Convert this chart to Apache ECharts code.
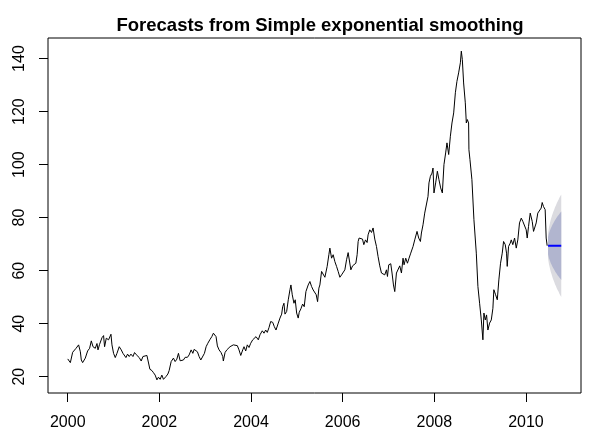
<!DOCTYPE html>
<html>
<head>
<meta charset="utf-8">
<style>html,body{margin:0;padding:0;background:#fff}#c{width:600px;height:442px}</style>
<script src="https://cdn.jsdelivr.net/npm/echarts@6/dist/echarts.min.js"></script>
</head>
<body>
<div id="c"></div>
<script>
var xTicks = [2000, 2002, 2004, 2006, 2008, 2010];
var yTicks = [20, 40, 60, 80, 100, 120, 140];

var obsYear = [
2000.000,2000.057,2000.107,2000.181,2000.237,2000.275,2000.296,2000.325,2000.383,2000.434,
2000.477,2000.514,2000.551,2000.601,2000.638,2000.660,2000.695,2000.747,2000.782,2000.804,
2000.841,2000.891,2000.943,2000.965,2001.000,2001.037,2001.074,2001.124,2001.168,2001.205,
2001.233,2001.270,2001.305,2001.342,2001.379,2001.423,2001.458,2001.495,2001.523,2001.560,
2001.603,2001.641,2001.684,2001.728,2001.762,2001.793,2001.837,2001.871,2001.908,2001.946,
2001.980,2002.017,2002.054,2002.089,2002.142,2002.185,2002.213,2002.257,2002.307,2002.344,
2002.381,2002.416,2002.453,2002.490,2002.525,2002.562,2002.612,2002.649,2002.693,2002.730,
2002.758,2002.795,2002.830,2002.867,2002.904,2002.939,2002.983,2003.020,2003.057,2003.107,
2003.144,2003.179,2003.216,2003.237,2003.266,2003.303,2003.346,2003.383,2003.396,2003.433,
2003.471,2003.505,2003.542,2003.579,2003.614,2003.651,2003.701,2003.738,2003.776,2003.819,
2003.847,2003.884,2003.919,2003.956,2003.993,2004.037,2004.065,2004.109,2004.159,2004.196,
2004.246,2004.283,2004.320,2004.355,2004.392,2004.429,2004.473,2004.508,2004.545,2004.595,
2004.632,2004.669,2004.691,2004.719,2004.741,2004.778,2004.813,2004.850,2004.871,2004.900,
2004.937,2004.965,2004.996,2005.030,2005.052,2005.089,2005.126,2005.161,2005.198,2005.248,
2005.285,2005.322,2005.357,2005.394,2005.423,2005.453,2005.481,2005.503,2005.540,2005.575,
2005.612,2005.662,2005.699,2005.721,2005.758,2005.793,2005.830,2005.867,2005.902,2005.939,
2005.976,2006.011,2006.048,2006.085,2006.120,2006.157,2006.179,2006.216,2006.250,2006.288,
2006.316,2006.338,2006.359,2006.396,2006.433,2006.462,2006.499,2006.534,2006.555,2006.592,
2006.630,2006.664,2006.701,2006.738,2006.773,2006.810,2006.847,2006.882,2006.919,2006.956,
2006.978,2007.006,2007.050,2007.078,2007.109,2007.137,2007.174,2007.209,2007.246,2007.283,
2007.318,2007.340,2007.377,2007.414,2007.449,2007.486,2007.536,2007.573,2007.623,2007.660,
2007.697,2007.719,2007.754,2007.791,2007.828,2007.863,2007.884,2007.915,2007.950,2007.972,
2007.993,2008.030,2008.067,2008.102,2008.139,2008.176,2008.211,2008.248,2008.277,2008.314,
2008.351,2008.386,2008.423,2008.460,2008.494,2008.531,2008.569,2008.590,2008.612,2008.640,
2008.677,2008.699,2008.721,2008.749,2008.756,2008.778,2008.821,2008.865,2008.917,2008.952,
2008.989,2009.026,2009.061,2009.083,2009.113,2009.141,2009.170,2009.207,2009.244,2009.279,
2009.300,2009.338,2009.375,2009.409,2009.446,2009.483,2009.512,2009.549,2009.577,2009.592,
2009.621,2009.658,2009.680,2009.714,2009.752,2009.789,2009.823,2009.860,2009.898,2009.932,
2009.969,2010.006,2010.028,2010.057,2010.094,2010.115,2010.137,2010.166,2010.187,2010.224,
2010.259,2010.296,2010.333,2010.355,2010.383,2010.420,2010.442,2010.464
];
var obsPrice = [
26.7,25.3,29.2,30.7,32.0,29.4,26.3,25.3,27.0,29.7,
30.7,33.5,31.3,30.7,32.5,30.1,32.2,34.7,35.5,31.3,
34.5,33.9,36.0,32.0,28.8,27.2,28.8,31.3,30.1,28.8,
29.4,27.2,28.5,27.6,28.5,27.6,29.1,28.3,27.6,27.2,
25.9,27.6,27.2,28.0,28.5,22.8,22.3,21.5,20.6,18.8,
19.8,19.0,20.6,19.0,20.0,21.0,22.3,25.7,27.0,25.7,
26.6,28.8,26.0,25.3,26.3,27.3,27.3,28.2,30.1,28.8,
30.3,29.8,29.4,27.6,26.3,27.0,28.8,31.3,32.6,34.1,
35.1,36.4,37.0,35.1,31.6,30.1,29.1,27.6,25.9,29.1,
30.1,30.3,31.3,31.0,32.0,31.3,31.7,30.1,28.0,30.1,
31.3,29.7,32.0,31.0,32.6,33.9,33.5,35.1,33.9,35.8,
37.3,36.4,37.6,36.7,38.5,40.8,40.5,38.9,37.6,40.2,
42.1,43.6,46.4,47.7,43.6,44.6,49.0,52.8,54.6,50.9,
47.7,49.0,44.0,42.1,44.3,45.6,47.4,46.4,52.1,54.6,
55.9,54.0,52.7,52.1,50.9,48.3,53.4,54.6,59.7,59.0,
57.5,61.6,66.0,68.5,64.7,66.0,63.4,61.6,59.7,57.5,
58.4,58.4,60.3,64.1,66.8,66.8,60.3,61.8,61.6,62.8,
66.0,71.0,72.3,71.6,71.9,69.8,71.6,70.6,73.5,75.4,
74.4,76.1,71.9,69.1,65.3,61.8,59.1,59.1,58.4,60.3,
57.8,62.2,62.6,59.1,54.6,52.1,59.1,59.7,61.8,59.1,
64.7,62.2,64.7,62.8,64.7,66.6,69.1,71.6,74.8,72.3,
71.0,74.2,77.3,81.7,82.3,88.0,93.1,95.6,96.8,98.7,
89.3,93.1,97.5,94.3,91.2,89.3,100.0,104.4,108.2,103.8,
110.7,115.7,119.5,127.1,131.4,134.6,138.4,142.8,139.6,130.8,
123.3,115.7,117.0,115.7,105.6,102.0,94.3,79.2,66.6,54.0,
47.7,41.4,33.9,44.0,41.4,43.3,37.6,40.2,41.4,45.8,
52.8,50.9,49.0,56.5,62.8,66.6,71.0,69.8,66.6,61.6,
69.1,70.4,71.6,69.8,72.3,68.5,71.6,78.0,79.8,78.6,
78.0,75.4,72.3,76.7,81.7,82.3,78.6,74.8,74.2,78.0,
81.7,82.3,83.6,85.7,84.2,83.0,72.3,69.4
];

var fcYear = [2010.483,2010.502,2010.522,2010.541,2010.560,2010.579,2010.598,2010.618,2010.637,2010.656,2010.675,2010.694,2010.714,2010.733,2010.752,2010.771];
var fcMean = [69.4,69.4,69.4,69.4,69.4,69.4,69.4,69.4,69.4,69.4,69.4,69.4,69.4,69.4,69.4,69.4];
var hi80 = [72.6,74.0,75.0,75.9,76.6,77.3,77.9,78.5,79.1,79.6,80.1,80.6,81.0,81.5,81.9,82.3];
var lo80 = [66.2,64.8,63.8,62.9,62.2,61.5,60.9,60.3,59.7,59.2,58.7,58.2,57.8,57.3,56.9,56.5];
var hi95 = [74.2,76.3,77.8,79.2,80.2,81.3,82.2,83.1,84.0,84.7,85.5,86.2,86.8,87.6,88.2,88.7];
var lo95 = [64.6,62.5,61.0,59.6,58.6,57.5,56.6,55.7,54.8,54.1,53.3,52.6,52.0,51.2,50.6,50.1];

function band(hi, lo, color) {
  return {
    type: 'custom',
    silent: true,
    data: [[fcYear[0], fcMean[0]]],
    renderItem: function (params, api) {
      var pts = [];
      for (var i = 0; i < fcYear.length; i++) pts.push(api.coord([fcYear[i], hi[i]]));
      for (var j = fcYear.length - 1; j >= 0; j--) pts.push(api.coord([fcYear[j], lo[j]]));
      return { type: 'polygon', shape: { points: pts }, style: { fill: color, stroke: null } };
    }
  };
}

var font = 'Liberation Sans, Arial, sans-serif';
var chart = echarts.init(document.getElementById('c'), null, { renderer: 'canvas' });
chart.setOption({
  animation: false,
  backgroundColor: '#ffffff',
  title: {
    text: 'Forecasts from Simple exponential smoothing',
    left: 315, top: 11, textAlign: 'center',
    textStyle: { fontFamily: font, fontWeight: 'bold', fontSize: 18.5, color: '#000' }
  },
  grid: { left: 48, right: 19, top: 38, bottom: 49, show: true, borderColor: '#000', borderWidth: 1, backgroundColor: 'transparent' },
  xAxis: {
    type: 'value', min: 1999.569, max: 2011.202,
    splitLine: { show: false },
    axisLine: { show: false },
    axisTick: { show: true, length: 9, customValues: xTicks, lineStyle: { color: '#000', width: 1 } },
    axisLabel: { customValues: xTicks, margin: 22, fontFamily: font, fontSize: 16, color: '#000', formatter: function (v) { return String(v); } }
  },
  yAxis: {
    type: 'value', min: 13.84, max: 147.76,
    splitLine: { show: false },
    axisLine: { show: false },
    axisTick: { show: true, length: 9, customValues: yTicks, lineStyle: { color: '#000', width: 1 } },
    axisLabel: { customValues: yTicks, rotate: 90, margin: 20, fontFamily: font, fontSize: 16, color: '#000', formatter: function (v) { return String(v); } }
  },
  series: [
    band(hi95, lo95, '#DBDBE0'),
    band(hi80, lo80, '#B1B5CF'),
    {
      type: 'line', symbol: 'none', silent: true,
      data: obsYear.map(function (t, i) { return [t, obsPrice[i]]; }),
      lineStyle: { color: '#000', width: 1 }
    },
    {
      type: 'line', symbol: 'none', silent: true,
      data: fcYear.map(function (t, i) { return [t, fcMean[i]]; }),
      lineStyle: { color: '#0000FF', width: 2 }
    }
  ]
});
</script>
</body>
</html>
